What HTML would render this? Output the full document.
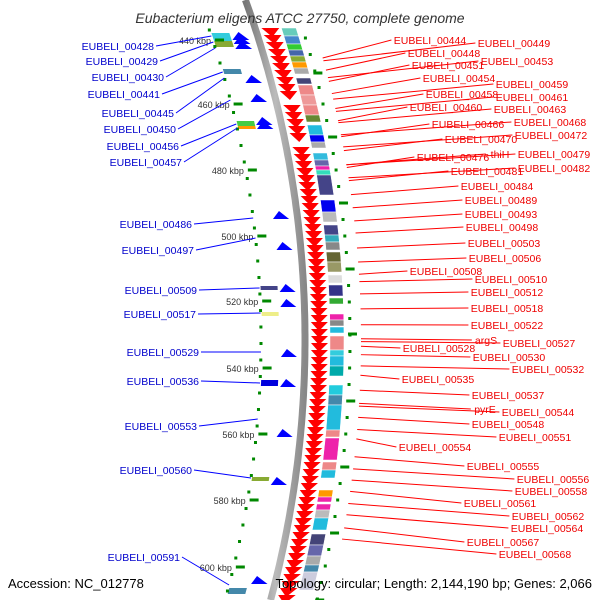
<!DOCTYPE html>
<html><head><meta charset="utf-8"><style>
body{margin:0;background:#fff;width:600px;height:600px;overflow:hidden}
svg{display:block;font-family:"Liberation Sans",sans-serif}
</style></head><body>
<svg id="map" width="600" height="600">
<defs><linearGradient id="bb" x1="0" x2="1"><stop offset="0" stop-color="#777"/><stop offset="0.5" stop-color="#bbb"/><stop offset="1" stop-color="#888"/></linearGradient></defs>
<g id="g"></g>
<text x="300" y="23" text-anchor="middle" font-size="14" font-style="italic" fill="#333">Eubacterium eligens ATCC 27750, complete genome</text>
<text x="8" y="588" font-size="13" fill="#000">Accession: NC_012778</text>
<text x="592" y="588" font-size="13" fill="#000" text-anchor="end">Topology: circular; Length: 2,144,190 bp; Genes: 2,066</text>
</svg>
<script>
const rightLabels=["EUBELI_00444","EUBELI_00449","EUBELI_00448","EUBELI_00451","EUBELI_00453","EUBELI_00454","EUBELI_00459","EUBELI_00458","EUBELI_00461","EUBELI_00460","EUBELI_00463","EUBELI_00466","EUBELI_00468","EUBELI_00470","EUBELI_00472","thiH","EUBELI_00476","EUBELI_00479","EUBELI_00481","EUBELI_00482","EUBELI_00484","EUBELI_00489","EUBELI_00493","EUBELI_00498","EUBELI_00503","EUBELI_00506","EUBELI_00508","EUBELI_00510","EUBELI_00512","EUBELI_00518","EUBELI_00522","argS","EUBELI_00527","EUBELI_00528","EUBELI_00530","EUBELI_00532","EUBELI_00535","EUBELI_00537","pyrE","EUBELI_00544","EUBELI_00548","EUBELI_00551","EUBELI_00554","EUBELI_00555","EUBELI_00556","EUBELI_00558","EUBELI_00561","EUBELI_00562","EUBELI_00564","EUBELI_00567","EUBELI_00568"];
const rightX=[430,514,444,448,517,459,532,462,532,446,530,468,550,481,551,500,453,554,487,554,497,501,501,502,504,505,446,511,507,507,507,486,539,439,509,548,438,508,485,538,508,535,435,503,553,551,500,548,547,503,535];
const rightY=[40,43,53,65,61,78,84,94,97,107,109,124,122,139,135,154,157,154,171,168,186,200,214,227,243,258,271,279,292,308,325,340,343,348,357,369,379,395,409,412,424,437,447,466,479,491,503,516,528,542,554];
const leftLabels=["EUBELI_00428","EUBELI_00429","EUBELI_00430","EUBELI_00441","EUBELI_00445","EUBELI_00450","EUBELI_00456","EUBELI_00457","EUBELI_00486","EUBELI_00497","EUBELI_00509","EUBELI_00517","EUBELI_00529","EUBELI_00536","EUBELI_00553","EUBELI_00560","EUBELI_00591"];
const leftY=[46,61,77,94,113,129,146,162,224,250,290,314,352,381,426,470,557];
const leftFeatY=[36,42,48,72,78,100,124,128,218,238,288,313,352,383,419,478,585];
const kbpLabels=[440,460,480,500,520,540,560,580,600];
const kbpY=[40,104,170,236,301,368,434,500,567];
const blueArrowY=[36,40,45,79,98,121,125,215,246,288,303,353,383,433,481,580];
const redGapStart=[95,140];
const rightBoxes=[[28,36,'#6cb'],[36,44,'#48c'],[44,50,'#3c3'],[50,56,'#46a'],[56,62,'#8a3'],[62,68,'#f90'],[68,74,'#aaa'],[78,84,'#447'],[85,95,'#e88'],[95,105,'#e99'],[105,115,'#e88'],[115,122,'#683'],[125,135,'#2bd'],[135,142,'#00e'],[142,148,'#aaa'],[153,160,'#3bd'],[160,166,'#66a'],[166,170,'#e2a'],[170,175,'#3db'],[175,195,'#448'],[200,212,'#00e'],[212,222,'#bbb'],[225,235,'#448'],[235,242,'#3ab'],[242,250,'#888'],[252,262,'#663'],[262,272,'#996'],[275,283,'#ddd'],[285,296,'#338'],[298,304,'#3a3'],[314,320,'#e2a'],[320,326,'#888'],[327,333,'#2bd'],[336,350,'#e88'],[350,356,'#3cd'],[356,366,'#2bd'],[366,376,'#0aa'],[385,395,'#2cd'],[395,405,'#48a'],[405,430,'#2bd'],[430,437,'#e88'],[438,460,'#e2a'],[462,470,'#e88'],[470,478,'#2bd'],[490,497,'#f90'],[497,502,'#e2a'],[504,510,'#e2a'],[510,518,'#bbb'],[518,530,'#2bd'],[534,545,'#447'],[545,556,'#66a'],[556,565,'#aaa'],[565,572,'#48a'],[572,590,'#ccd']];
const leftBoxes=[[33,41,'#3cd'],[41,47,'#8a3'],[69,74,'#48a'],[121,126,'#4c4'],[126,129,'#f90'],[286,290,'#448'],[312,316,'#ee8'],[380,386,'#00d'],[477,481,'#8a3'],[588,594,'#48a']];

const CX=-695,CY=340,R=1000;
function xAt(y,off){const r=R+off;return CX+Math.sqrt(r*r-(y-CY)*(y-CY));}
const g=document.getElementById('g');
const NS='http://www.w3.org/2000/svg';
function mk(t,a){const e=document.createElementNS(NS,t);for(const k in a)e.setAttribute(k,a[k]);g.appendChild(e);return e;}

let d='';for(let y=0;y<=600;y+=5){d+=(y?'L':'M')+xAt(y,0).toFixed(1)+','+y;}
let bb=mk('path',{d:d,fill:'none',stroke:'url(#bb)','stroke-width':7});



for(let y=28;y<598;y+=7){
  if(redGapStart.some(s=>y>=s&&y<s+4))continue;
  const a=xAt(y,6),b=xAt(y,23),m=xAt(y+8,14);
  const p=mk('polygon',{points:`${a},${y} ${b},${y} ${m},${y+9}`,fill:'#f00'});
  
  
}
rightBoxes.forEach(bx=>{
  const[y0,y1,c]=bx;const p=mk('polygon',{points:`${xAt(y0,25)},${y0} ${xAt(y0,39)},${y0} ${xAt(y1,39)},${y1} ${xAt(y1,25)},${y1}`,fill:c,stroke:'#fff','stroke-width':0.5});
  
  
});
leftBoxes.forEach(bx=>{
  const[y0,y1,c]=bx;const p=mk('polygon',{points:`${xAt(y0,-43)},${y0} ${xAt(y0,-26)},${y0} ${xAt(y1,-26)},${y1} ${xAt(y1,-43)},${y1}`,fill:c});
  
  
});
blueArrowY.forEach(y=>{
  const a=xAt(y,-24),b=xAt(y,-8);
  const p=mk('polygon',{points:`${a},${y+4} ${b},${y+4} ${a+6},${y-4}`,fill:'#00f'});
  
  
});
for(let y=30;y<600;y+=16.5){
  const dl=mk('rect',{x:xAt(y,-44)-1.5,y:y-1.5,width:3,height:3,fill:'#080'});
  
  
  const yr=y+8;
  const dr=mk('rect',{x:xAt(yr,45)-1.5,y:yr-1.5,width:3,height:3,fill:'#080'});
  
  
}
kbpLabels.forEach((k,i)=>{
  const y=kbpY[i];const x=xAt(y,-38);
  const t=mk('rect',{x:x-4,y:y-1.5,width:9,height:3,fill:'#080'});
  
  
  const yr=y+33;const xr=xAt(yr,47);
  const t2=mk('rect',{x:xr-4,y:yr-1.5,width:9,height:3,fill:'#080'});
  
  
  const l=mk('text',{x:x-8,y:y+4,'font-size':9,fill:'#333','text-anchor':'end'});
  l.textContent=k+' kbp';
  
  
});
rightLabels.forEach((s,i)=>{
  const ly=rightY[i];const fy=ly+18-33*(ly-40)/515;
  const w=s.length*6.1;const lx=rightX[i]-w/2;
  const ln=mk('line',{x1:xAt(fy,56),y1:fy,x2:lx-2,y2:ly,stroke:'#f00','stroke-width':1});
  
  
  const t=mk('text',{x:rightX[i],y:ly+4,'font-size':10.5,fill:'#e00','text-anchor':'middle'});
  t.textContent=s;
  
  
});
leftLabels.forEach((s,i)=>{
  const ly=leftY[i];const fy=leftFeatY[i];
  const rx=[154,158,164,160,174,176,179,182,192,194,197,196,199,199,197,192,180][i];
  const ln=mk('line',{x1:rx+2,y1:ly,x2:xAt(fy,-44),y2:fy,stroke:'#00f','stroke-width':1});
  
  
  const t=mk('text',{x:rx,y:ly+4,'font-size':10.5,fill:'#00c','text-anchor':'end'});
  t.textContent=s;
  
  
});
</script>
</body></html>
